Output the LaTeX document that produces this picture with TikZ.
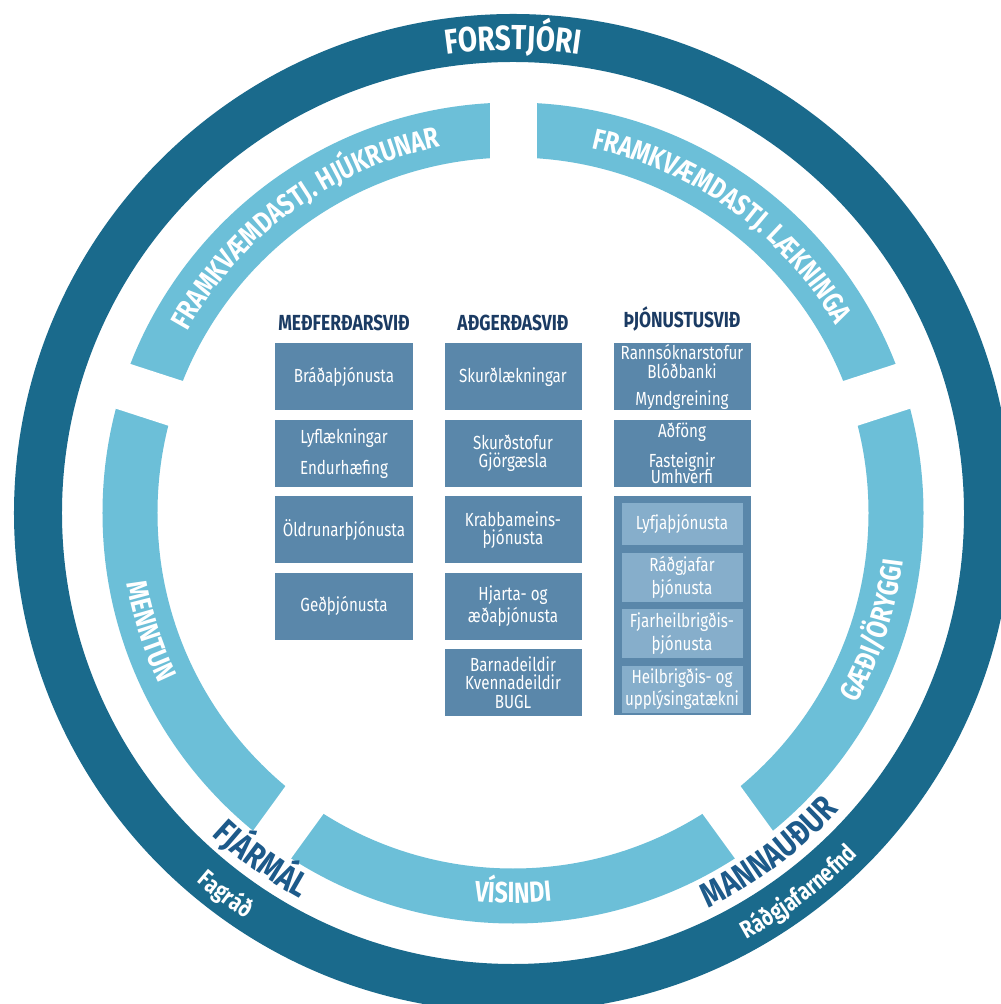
\documentclass[tikz,border=0pt]{standalone}
\usepackage{fontspec}
\setmainfont{Fira Sans}[FakeStretch=0.8]
\usepackage{tikz}
\usetikzlibrary{positioning, decorations.text}

\definecolor{ringdark}{HTML}{1A6A8C}
\definecolor{ringlight}{HTML}{6CBFD8}
\definecolor{boxblue}{HTML}{5A87AA}
\definecolor{boxlight}{HTML}{86AECB}
\definecolor{navy}{HTML}{1B3B63}
\definecolor{labelblue}{HTML}{1D5A8A}

\newcommand\toplbl{\color{white}\bfseries\fontsize{9.9}{12}\selectfont}
\newcommand\ringlbl{\color{white}\bfseries\fontsize{8.3}{10}\selectfont}
\newcommand\sidelbl{\color{labelblue}\bfseries\fontsize{9.9}{12}\selectfont}
\newcommand\sublbl{\color{white}\bfseries\fontsize{7}{8}\selectfont}

\begin{document}
\begin{tikzpicture}[x=0.1mm, y=0.1mm, node distance=0.8mm,
    box/.style={fill=boxblue, text=white, minimum width=13.7mm, minimum height=6.7mm,
        inner sep=0pt, align=center, font=\fontsize{5.4}{5.2}\selectfont},
    subbox/.style={box, fill=boxlight, minimum width=12.1mm},
    head/.style={text=navy, inner sep=0pt, font=\bfseries\fontsize{6.2}{7}\selectfont}]
                \tikzset{arctext/.style={decorate, decoration={text along path, text align=center, text={#1}}}}

                \useasboundingbox[fill=white] (-513,-491) rectangle (487,513);

                % RINGS
                \draw[ringdark, line width=4.8mm] (0,0) circle[radius=475];
                \draw[ringlight, line width=5.5mm] (0,0) circle[radius=383];
                \foreach \a in {18,90,162,234,306}
                    \draw[white, line width=4.7mm] (\a:335) -- (\a:430);

                % RING TEXTS
                \path[arctext={|\toplbl|FORSTJÓRI}] (130:463) arc[start angle=130, end angle=50, radius=463];
                \path[arctext={|\ringlbl|FRAMKVÆMDASTJ. HJÚKRUNAR}] (162:373) arc[start angle=162, end angle=90, radius=373];
                \path[arctext={|\ringlbl|FRAMKVÆMDASTJ. LÆKNINGA}] (90:373) arc[start angle=90, end angle=18, radius=373];
                \path[arctext={|\ringlbl|MENNTUN}] (162:393) arc[start angle=162, end angle=234, radius=393];
                \path[arctext={|\ringlbl|VÍSINDI}] (234:390) arc[start angle=234, end angle=306, radius=390];
                \path[arctext={|\ringlbl|GÆÐI/ÖRYGGI}] (306:393) arc[start angle=306, end angle=378, radius=393];
                \path[arctext={|\sidelbl|FJÁRMÁL}] (210:441) arc[start angle=210, end angle=258, radius=441];
                \path[arctext={|\sidelbl|MANNAUÐUR}] (280:441) arc[start angle=280, end angle=334, radius=441];
                \path[arctext={|\sublbl|Fagráð}] (215:486) arc[start angle=215, end angle=251, radius=486];
                \path[arctext={|\sublbl|Ráðgjafarnefnd}] (280:486) arc[start angle=280, end angle=334, radius=486];

                % MEÐFERÐARSVIÐ
                \node[box] (m1) at (-169,136) {Bráðaþjónusta};
                \node[box] (m2) [below=of m1] {Lyflækningar\\[2.5pt]Endurhæfing};
                \node[box] (m3) [below=of m2] {Öldrunarþjónusta};
                \node[box] (m4) [below=of m3] {Geðþjónusta};
                \node[head] (hm) [above=1.1mm of m1] {MEÐFERÐARSVIÐ};

                % AÐGERÐASVIÐ
                \node[box] (a1) at (0,136) {Skurðlækningar};
                \node[box] (a2) [below=of a1] {Skurðstofur\\Gjörgæsla};
                \node[box] (a3) [below=of a2] {Krabbameins-\\þjónusta};
                \node[box] (a4) [below=of a3] {Hjarta- og\\æðaþjónusta};
                \node[box] (a5) [below=of a4] {Barnadeildir\\Kvennadeildir\\BUGL};
                \node[head] (ha) [above=1.1mm of a1] {AÐGERÐASVIÐ};

                % ÞJÓNUSTUSVIÐ
                \node[box] (t1) at (169,136) {Rannsóknarstofur\\Blóðbanki\\[2.5pt]Myndgreining};
                \node[box] (t2) [below=of t1] {Aðföng\\[2pt]Fasteignir\\[-1.5pt]Umhverfi};
                \node[box, minimum height=21.9mm] (t3) [below=of t2] {};
                \node[head] (ht) [above=1.1mm of t1] {ÞJÓNUSTUSVIÐ};
                \node[subbox, minimum height=4.2mm] (s1) [below=0.7mm of t3.north] {Lyfjaþjónusta};
                \node[subbox, minimum height=4.9mm] (s2) [below=0.6mm of s1] {Ráðgjafar\\þjónusta};
                \node[subbox, minimum height=4.9mm] (s3) [below=0.6mm of s2] {Fjarheilbrigðis-\\þjónusta};
                \node[subbox, minimum height=4.7mm] (s4) [below=0.6mm of s3] {Heilbrigðis- og\\upplýsingatækni};

            \end{tikzpicture}
\end{document}
